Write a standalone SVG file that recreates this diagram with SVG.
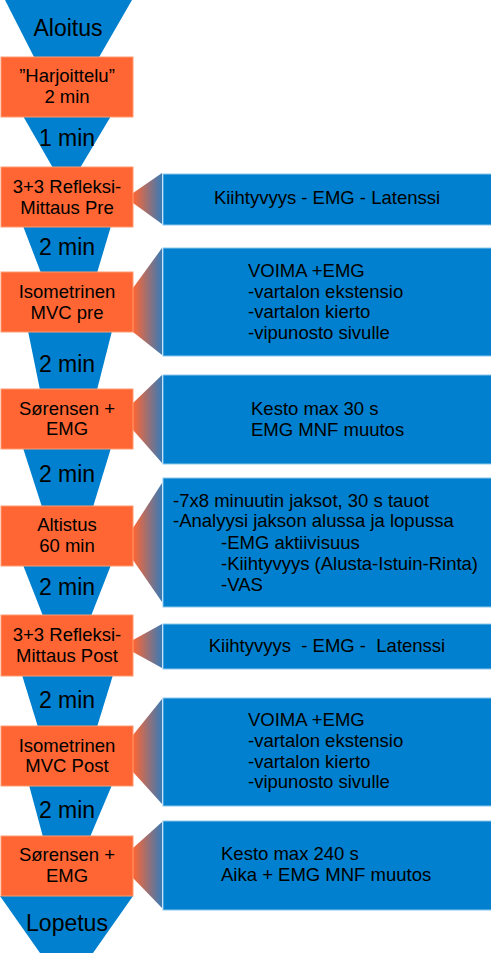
<svg xmlns="http://www.w3.org/2000/svg" width="491" height="953" viewBox="0 0 491 953">
<defs>
<linearGradient id="callout" x1="0" y1="0" x2="1" y2="0">
<stop offset="0" stop-color="#FF6633"/>
<stop offset="1" stop-color="#3A7AB4"/>
</linearGradient>
<style>
.funnel{fill:#0080CE;}
.step{fill:#FF6633;stroke:#FF9A70;stroke-width:1;}
.info{fill:#0080CE;stroke:#8EC6EE;stroke-width:1;}
.call{fill:url(#callout);}
text{font-family:"Liberation Sans",Arial,sans-serif;fill:#000;}
.big{font-size:23px;text-anchor:middle;}
.st{font-size:18.5px;text-anchor:middle;}
.tx{font-size:18.5px;}
.ctr{text-anchor:middle;white-space:pre;}
</style>
</defs>
<rect width="491" height="953" fill="#FFFFFF"/>

<g id="connectors">
<polygon class="funnel" points="5,0 132,0 98,59 35,59"/>
<polygon class="funnel" points="23,116 111,116 80,168 53,168"/>
<polygon class="funnel" points="23,226 111,226 97,273 41,273"/>
<polygon class="funnel" points="28,331 112,331 97,390 40,390"/>
<polygon class="funnel" points="23,448 111,448 93,507 42,507"/>
<polygon class="funnel" points="23,565 111,565 91,616 43,616"/>
<polygon class="funnel" points="22,675 113,675 97,727 38,727"/>
<polygon class="funnel" points="29,785 112,785 90,837 43,837"/>
<polygon class="funnel" points="0,896 133,896 93,953 40,953"/>
<text class="big" x="68" y="36">Aloitus</text>
<text class="big" x="67" y="146">1 min</text>
<text class="big" x="67" y="255">2 min</text>
<text class="big" x="67" y="372">2 min</text>
<text class="big" x="67" y="482">2 min</text>
<text class="big" x="67" y="595">2 min</text>
<text class="big" x="67" y="708">2 min</text>
<text class="big" x="67" y="818">2 min</text>
<text class="big" x="67" y="931">Lopetus</text>
<polygon class="call" points="133,193 162,173 162,224 133,203"/>
<polygon class="call" points="133,288 162,248 162,355 133,332"/>
<polygon class="call" points="133,403 162,375 162,463 133,430"/>
<polygon class="call" points="133,528 162,483 162,602 133,560"/>
<polygon class="call" points="133,640 162,624 162,668 133,652"/>
<polygon class="call" points="133,735 162,699 162,804 133,772"/>
<polygon class="call" points="133,848 162,822 162,908 133,878"/>
</g>

<g id="step1"><rect class="step" x="1" y="57" width="132" height="60"/>
<text class="st" x="67" y="82">”Harjoittelu”</text><text class="st" x="67" y="103">2 min</text></g>
<g id="step2"><rect class="step" x="1" y="167" width="132" height="60"/>
<text class="st" x="67" y="193">3+3 Refleksi-</text><text class="st" x="67" y="214">Mittaus Pre</text></g>
<g id="step3"><rect class="step" x="1" y="272" width="132" height="60"/>
<text class="st" x="67" y="298">Isometrinen</text><text class="st" x="67" y="319">MVC pre</text></g>
<g id="step4"><rect class="step" x="1" y="389" width="132" height="60"/>
<text class="st" x="67" y="415">Sørensen +</text><text class="st" x="67" y="435">EMG</text></g>
<g id="step5"><rect class="step" x="1" y="506" width="132" height="60"/>
<text class="st" x="67" y="531">Altistus</text><text class="st" x="67" y="552">60 min</text></g>
<g id="step6"><rect class="step" x="1" y="615" width="132" height="61"/>
<text class="st" x="67" y="641">3+3 Refleksi-</text><text class="st" x="67" y="662">Mittaus Post</text></g>
<g id="step7"><rect class="step" x="1" y="726" width="132" height="60"/>
<text class="st" x="67" y="752">Isometrinen</text><text class="st" x="67" y="772">MVC Post</text></g>
<g id="step8"><rect class="step" x="1" y="836" width="132" height="60"/>
<text class="st" x="67" y="861">Sørensen +</text><text class="st" x="67" y="882">EMG</text></g>

<g id="info1"><rect class="info" x="163" y="174" width="330" height="51"/>
<text class="tx ctr" x="327" y="204">Kiihtyvyys - EMG - Latenssi</text></g>
<g id="info2"><rect class="info" x="163" y="248" width="330" height="108"/>
<text class="tx" x="248" y="277">VOIMA +EMG</text>
<text class="tx" x="248" y="298">-vartalon ekstensio</text>
<text class="tx" x="248" y="318">-vartalon kierto</text>
<text class="tx" x="248" y="339">-vipunosto sivulle</text></g>
<g id="info3"><rect class="info" x="163" y="375" width="330" height="89"/>
<text class="tx" x="251" y="415">Kesto max 30 s</text>
<text class="tx" x="251" y="436">EMG MNF muutos</text></g>
<g id="info4"><rect class="info" x="163" y="478" width="330" height="129"/>
<text class="tx" x="173" y="507">-7x8 minuutin jaksot, 30 s tauot</text>
<text class="tx" x="173" y="527">-Analyysi jakson alussa ja lopussa</text>
<text class="tx" x="221" y="549">-EMG aktiivisuus</text>
<text class="tx" x="221" y="570">-Kiihtyvyys (Alusta-Istuin-Rinta)</text>
<text class="tx" x="221" y="591">-VAS</text></g>
<g id="info5"><rect class="info" x="163" y="624" width="330" height="45"/>
<text class="tx ctr" x="327" y="652">Kiihtyvyys  - EMG -  Latenssi</text></g>
<g id="info6"><rect class="info" x="163" y="698" width="330" height="108"/>
<text class="tx" x="248" y="726">VOIMA +EMG</text>
<text class="tx" x="248" y="747">-vartalon ekstensio</text>
<text class="tx" x="248" y="768">-vartalon kierto</text>
<text class="tx" x="248" y="788">-vipunosto sivulle</text></g>
<g id="info7"><rect class="info" x="163" y="821" width="330" height="89"/>
<text class="tx" x="221" y="860">Kesto max 240 s</text>
<text class="tx" x="221" y="881">Aika + EMG MNF muutos</text></g>
</svg>
